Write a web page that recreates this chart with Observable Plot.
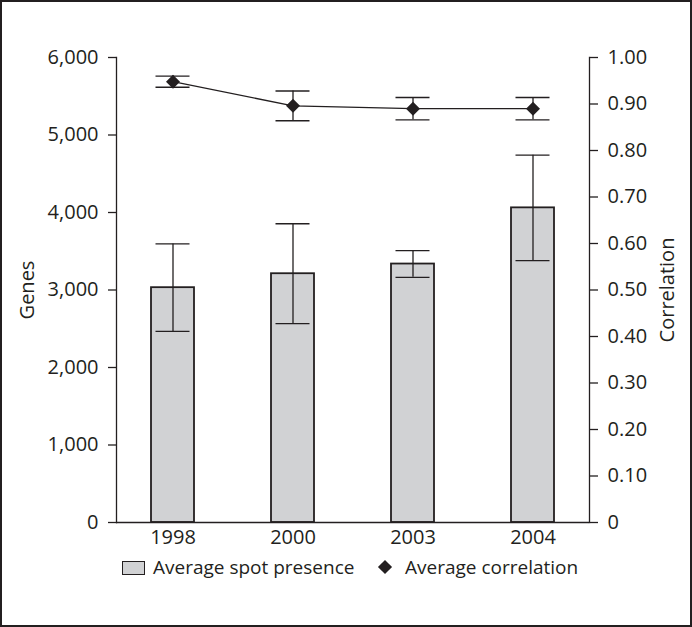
<!DOCTYPE html>
<html>
<head>
<meta charset="utf-8">
<script src="https://cdn.jsdelivr.net/npm/d3@7"></script>
<script src="https://cdn.jsdelivr.net/npm/@observablehq/plot@0.6"></script>
<style>
  html, body { margin: 0; padding: 0; background: #fff; }
  #wrap { position: relative; width: 692px; height: 627px; overflow: hidden; font-family: "Open Sans", sans-serif; color: #231f20; }
  #border { position: absolute; left: 0; top: 0; width: 692px; height: 627px; box-sizing: border-box; border: 2px solid #231f20; pointer-events: none; }
  #chart { position: absolute; left: 0; top: 0; }
  #legend { position: absolute; left: 0; top: 555px; width: 692px; height: 26px; font-size: 19px; }
  .sw { position: absolute; top: 6px; width: 21px; height: 12px; background: #d1d2d4; border: 1.6px solid #231f20; }
  .dm { position: absolute; top: 7px; width: 10px; height: 10px; background: #231f20; transform: rotate(45deg); }
  .lt { position: absolute; top: 0; line-height: 24px; white-space: nowrap; }
</style>
</head>
<body>
<div id="wrap">
  <div id="chart"></div>
  <div id="legend"></div>
  <div id="border"></div>
</div>
<script>
const years = ["1998", "2000", "2003", "2004"];
const genes = [3030, 3210, 3335, 4060];
const genesErr = [565, 645, 172, 680];
const corr = [0.948, 0.896, 0.890, 0.890];
const corrErr = [0.012, 0.032, 0.024, 0.024];
const geneTicks = [0, 1000, 2000, 3000, 4000, 5000, 6000];
const corrTicks = [0, 0.1, 0.2, 0.3, 0.4, 0.5, 0.6, 0.7, 0.8, 0.9, 1.0];
const legendItems = ["Average spot presence", "Average correlation"];

const GMAX = 6000; // correlation 1.00 aligns with 6,000 genes
const ink = "#231f20";

const data = years.map((year, i) => ({
  year,
  genes: genes[i],
  gLo: genes[i] - genesErr[i],
  gHi: genes[i] + genesErr[i],
  corr: corr[i] * GMAX,
  cLo: (corr[i] - corrErr[i]) * GMAX,
  cHi: (corr[i] + corrErr[i]) * GMAX
}));

const plot = Plot.plot({
  width: 692,
  height: 555,
  marginLeft: 116,
  marginRight: 103,
  marginTop: 57,
  marginBottom: 33,
  style: { fontFamily: "Open Sans, sans-serif", fontSize: "20px", color: ink, background: "transparent" },
  x: { type: "band", domain: years, paddingInner: 0.64, paddingOuter: 0.29, label: null },
  y: { domain: [0, GMAX], label: null },
  marks: [
    Plot.barY(data, { x: "year", y: "genes", fill: "#d1d2d4", stroke: ink, strokeWidth: 1.8 }),
    Plot.ruleX(data, { x: "year", y1: "gLo", y2: "gHi", stroke: ink, strokeWidth: 1.3 }),
    Plot.tickY(data, { x: "year", y: "gLo", stroke: ink, strokeWidth: 1.3, insetLeft: 4.5, insetRight: 4.5 }),
    Plot.tickY(data, { x: "year", y: "gHi", stroke: ink, strokeWidth: 1.3, insetLeft: 4.5, insetRight: 4.5 }),
    Plot.ruleX(data, { x: "year", y1: "cLo", y2: "cHi", stroke: ink, strokeWidth: 1.3 }),
    Plot.tickY(data, { x: "year", y: "cLo", stroke: ink, strokeWidth: 1.3, insetLeft: 4.5, insetRight: 4.5 }),
    Plot.tickY(data, { x: "year", y: "cHi", stroke: ink, strokeWidth: 1.3, insetLeft: 4.5, insetRight: 4.5 }),
    Plot.line(data, { x: "year", y: "corr", stroke: ink, strokeWidth: 1.3 }),
    Plot.dot(data, { x: "year", y: "corr", symbol: "diamond2", r: 6.3, fill: ink, stroke: "none" }),
    Plot.ruleY([0], { stroke: ink, strokeWidth: 1.5 }),
    Plot.frame({ anchor: "left", stroke: ink, strokeWidth: 1.3 }),
    Plot.frame({ anchor: "right", stroke: ink, strokeWidth: 1.3 }),
    Plot.axisY(geneTicks, { anchor: "left", tickSize: 8, tickPadding: 10, fontSize: 20, tickFormat: d3.format(","), stroke: ink, strokeWidth: 1.3, fill: ink, label: null }),
    Plot.axisY(corrTicks.map(t => t * GMAX), { anchor: "right", tickSize: 8, tickPadding: 10, fontSize: 20,
      tickFormat: d => (d === 0 ? "0" : (d / GMAX).toFixed(2)), stroke: ink, strokeWidth: 1.3, fill: ink, label: null }),
    Plot.axisX({ anchor: "bottom", tickSize: 0, tickPadding: 7, fontSize: 20, fill: ink, label: null }),
    Plot.text(["Genes"], { frameAnchor: "left", textAnchor: "middle", rotate: -90, dx: -89, fontSize: 20, fill: ink }),
    Plot.text(["Correlation"], { frameAnchor: "right", textAnchor: "middle", rotate: -90, dx: 78, fontSize: 20, fill: ink })
  ]
});
document.getElementById("chart").appendChild(plot);

const legend = document.getElementById("legend");
legend.innerHTML =
  `<div class="sw" style="left:122px"></div>` +
  `<div class="lt" style="left:153px">${legendItems[0]}</div>` +
  `<div class="dm" style="left:380px"></div>` +
  `<div class="lt" style="left:405px">${legendItems[1]}</div>`;
</script>
</body>
</html>
